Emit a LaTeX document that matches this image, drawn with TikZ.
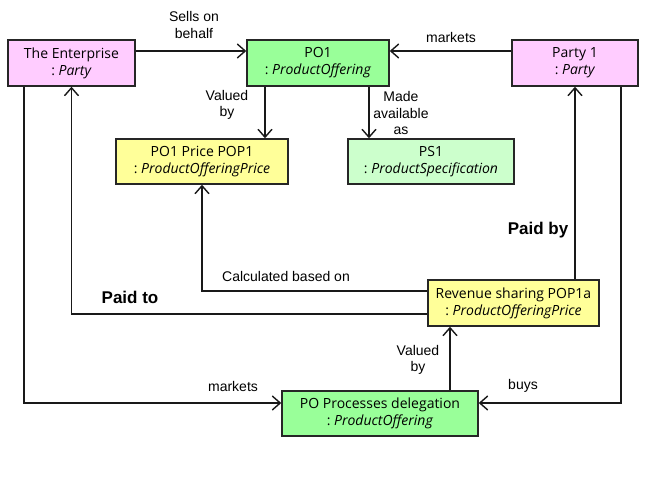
\documentclass[tikz,border=0pt]{standalone}
\usepackage{fontspec}
\setmainfont{Liberation Sans}
\newfontfamily\objfont{Open Sans}
\usetikzlibrary{arrows.meta}

\definecolor{partypink}{RGB}{255,204,255}
\definecolor{offergreen}{RGB}{153,255,153}
\definecolor{specgreen}{RGB}{204,255,204}
\definecolor{priceyellow}{RGB}{255,255,153}

\tikzset{
  obj/.style={rectangle, draw=black!85, line width=1.4pt, text=black,
    minimum height=46pt, inner sep=0pt, align=center,
    font=\objfont\fontsize{14}{17}\selectfont},
  lbl/.style={align=center, inner sep=0pt, font=\fontsize{14}{16.5}\selectfont},
  boldlbl/.style={inner sep=0pt, font=\bfseries\fontsize{17}{19}\selectfont},
  link/.style={line width=1.4pt, black!90,
    -{Straight Barb[length=8pt,width=14pt,line width=1.4pt]}}
}

\begin{document}
\begin{tikzpicture}[x=1pt, y=-1pt]
\useasboundingbox (0,0) rectangle (651,494);

 \node[obj, fill=partypink, minimum width=127pt] (ent) at (71.5,63)
    {The Enterprise\\:~\textit{Party}};

 \node[obj, fill=offergreen, minimum width=142pt] (po1) at (318,63)
    {PO1\\:~\textit{ProductOffering}};

 \node[obj, fill=partypink, minimum width=126pt] (party) at (575,63)
    {Party 1\\:~\textit{Party}};

 \node[obj, fill=priceyellow, minimum width=172pt, minimum height=45pt] (pop1) at (202,161.5)
    {PO1 Price POP1\\:~\textit{ProductOfferingPrice}};

 \node[obj, fill=specgreen, minimum width=166pt, minimum height=45pt] (ps1) at (431,161.5)
    {PS1\\:~\textit{ProductSpecification}};

 \node[obj, fill=priceyellow, minimum width=171pt] (rev) at (513.5,303)
    {Revenue sharing POP1a\\:~\textit{ProductOfferingPrice}};

 \node[obj, fill=offergreen, minimum width=196pt, minimum height=45pt] (pod) at (380,413.5)
    {PO Processes delegation\\:~\textit{ProductOffering}};

\draw [link] ([yshift=12pt]ent.east) -- ([yshift=12pt]po1.west);
\node[lbl] (sells) at (194,25) {Sells on\\behalf};

\draw [link] ([yshift=12pt]party.west) -- ([yshift=12pt]po1.east);
\node[lbl] (mkt1) at (451,37) {markets};

\draw [link] ([xshift=-53pt]po1.south) -- ([xshift=-53pt]po1.south |- pop1.north);
\node[lbl] (val1) at (227,105) {Valued\\by};

\draw [link] ([xshift=51pt]po1.south) -- ([xshift=51pt]po1.south |- ps1.north);
\node[lbl] (avail) at (401,113) {Made\\available\\as};

\draw [link] ([yshift=12pt]rev.west) -| (pop1.south);
\node[lbl] (calc) at (286,276) {Calculated based on};

\draw [link] ([yshift=-11pt]rev.west) -| (ent.south);
\node[boldlbl] (paidto) at (130,297) {Paid to};

\draw [link] (rev.north -| party.south) -- (party.south);
\node[boldlbl] (paidby) at (538,230) {Paid by};

\draw [link] ([xshift=70pt]pod.north) -- ([xshift=70pt]pod.north |- rev.south);
\node[lbl] (val2) at (418,360) {Valued\\by};

\draw [link] ([xshift=-47.5pt]ent.south) |- ([yshift=10.5pt]pod.west);
\node[lbl] (mkt2) at (233,386) {markets};

\draw [link] ([xshift=46pt]party.south) |- ([yshift=10.5pt]pod.east);
\node[lbl] (buys) at (523,386) {buys};

\end{tikzpicture}
\end{document}
